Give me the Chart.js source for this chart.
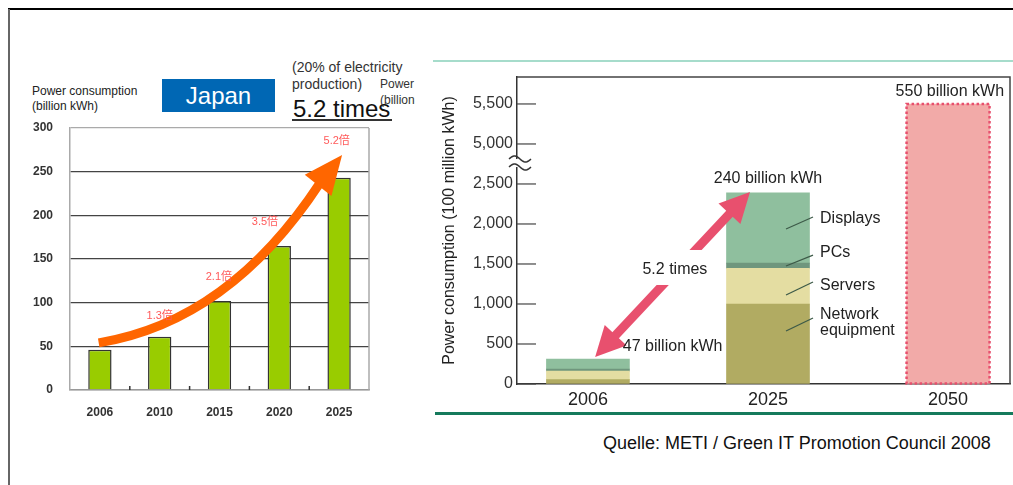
<!DOCTYPE html>
<html>
<head>
<meta charset="utf-8">
<script src="https://cdn.jsdelivr.net/npm/chart.js@4"></script>
<style>
  html, body { margin: 0; padding: 0; background: #fff; }
  body { width: 1013px; height: 485px; position: relative; overflow: hidden;
         font-family: "Liberation Sans", Arial, sans-serif; }
  .t { position: absolute; white-space: nowrap; line-height: 1; }
  .ln { position: absolute; }
  canvas { position: absolute; top: 0; }
</style>
</head>
<body>
<!-- slide frame -->
<div class="ln" style="left:8px;top:8px;width:1005px;height:2px;background:#000"></div>
<div class="ln" style="left:8px;top:9px;width:2px;height:476px;background:#666"></div>
<div class="ln" style="left:433px;top:60px;width:580px;height:1.5px;background:#a6dccb"></div>
<div class="ln" style="left:435px;top:412px;width:578px;height:2.5px;background:#157a5c"></div>

<!-- left chart headings -->
<div class="t" style="left:32px;top:85px;font-size:12px;color:#222">Power consumption</div>
<div class="t" style="left:32px;top:100px;font-size:12px;color:#222">(billion kWh)</div>
<div class="ln" style="left:162px;top:79px;width:113px;height:33px;background:#0067b4;color:#fff;font-size:24px;line-height:33px;text-align:center">Japan</div>
<div class="t" style="left:292px;top:60px;font-size:14px;color:#333">(20% of electricity</div>
<div class="t" style="left:292px;top:77px;font-size:14px;color:#333">production)</div>
<div class="t" style="left:293px;top:97px;font-size:24px;color:#111">5.2 times</div>
<div class="ln" style="left:292px;top:119px;width:100px;height:1.5px;background:#333"></div>
<div class="ln" style="left:380px;top:77px;width:37px;height:30px;overflow:hidden">
  <div class="t" style="left:0;top:1px;font-size:12px;color:#333">Power</div>
  <div class="t" style="left:0;top:17px;font-size:12px;color:#333">(billion</div>
</div>

<canvas id="jp" width="430" height="440" style="left:0;width:430px;height:440px"></canvas>
<canvas id="it" width="583" height="430" style="left:430px;width:583px;height:430px"></canvas>

<div class="t" style="left:603px;top:434px;font-size:18px;color:#111">Quelle: METI / Green IT Promotion Council 2008</div>

<script>
Chart.defaults.font.family = "'Liberation Sans', Arial, 'Noto Sans CJK JP', sans-serif";

// ---- left: Japan IT power consumption (billion kWh)
const yearsJp = ['2006', '2010', '2015', '2020', '2025'];
const consumptionJp = [46, 61, 102, 165, 243];
const ticksJp = [0, 50, 100, 150, 200, 250, 300];
const ratioLabels = ['1.3倍', '2.1倍', '3.5倍', '5.2倍'];

// ---- right: IT equipment power consumption (100 million kWh)
const yearsIt = ['2006', '2025', '2050'];
const networkEq = [55, 1000, null];
const servers = [105, 445, null];
const pcs = [25, 65, null];
const displays = [125, 880, null];
const forecast2050 = [null, null, 5500];
const ticksIt = [0, 500, 1000, 1500, 2000, 2500, 5000, 5500];

// annotation spots, as (category, value) on each chart
const ratioSpots = [[1.0, 85], [1.99, 129], [2.76, 192], [3.96, 285]];
const growthCurve = [[-0.02, 54], [1.5, 71], [2.71, 136], [3.68, 237], [4.05, 269]];

// axis break: everything above 2500 is shifted down by 2000
const brk = v => (v > 2500 ? v - 2000 : v);

function arrowHead(ctx, from, tip, len, w) {
  const dx = tip[0] - from[0], dy = tip[1] - from[1];
  const d = Math.hypot(dx, dy), ux = dx / d, uy = dy / d;
  const bx = tip[0] - ux * len, by = tip[1] - uy * len;
  ctx.beginPath();
  ctx.moveTo(tip[0], tip[1]);
  ctx.lineTo(bx - uy * w / 2, by + ux * w / 2);
  ctx.lineTo(bx + uy * w / 2, by - ux * w / 2);
  ctx.closePath();
  ctx.fill();
}

const jpDecor = {
  id: 'jpDecor',
  afterDatasetsDraw(chart) {
    const { ctx, chartArea: a, scales: { x, y } } = chart;
    const P = p => [x.getPixelForValue(p[0]), y.getPixelForValue(p[1])];
    ctx.save();
    ctx.strokeStyle = '#aaa';
    ctx.lineWidth = 1.5;
    ctx.beginPath();
    ctx.moveTo(a.right, a.top);
    ctx.lineTo(a.right, a.bottom);
    ctx.stroke();

    // little marks between categories
    ctx.strokeStyle = '#333';
    for (let i = 0; i < yearsJp.length - 1; i++) {
      const tx = x.getPixelForValue(i + 0.5);
      ctx.beginPath();
      ctx.moveTo(tx, a.bottom - 4);
      ctx.lineTo(tx, a.bottom);
      ctx.stroke();
    }

    // orange growth arrow
    const [p0, p1, p2, p3, tip] = growthCurve.map(P);
    ctx.strokeStyle = '#ff6600';
    ctx.fillStyle = '#ff6600';
    ctx.lineWidth = 9;
    ctx.beginPath();
    ctx.moveTo(p0[0], p0[1]);
    ctx.bezierCurveTo(p1[0], p1[1], p2[0], p2[1], p3[0], p3[1]);
    ctx.stroke();
    arrowHead(ctx, p3, tip, Math.hypot(tip[0] - p3[0], tip[1] - p3[1]) + 3, 34);

    ctx.fillStyle = '#ff5a5a';
    ctx.font = "11px 'Liberation Sans', Arial, 'Noto Sans CJK JP', sans-serif";
    ctx.textAlign = 'center';
    ctx.textBaseline = 'middle';
    ratioLabels.forEach((t, i) => {
      const [px, py] = P(ratioSpots[i]);
      ctx.fillText(t, px, py);
    });
    ctx.restore();
  }
};

new Chart(document.getElementById('jp'), {
  type: 'bar',
  data: {
    labels: yearsJp,
    datasets: [{
      data: consumptionJp,
      backgroundColor: '#99cc00',
      borderColor: '#333',
      borderWidth: 1.5,
      barPercentage: 0.39,
      categoryPercentage: 1
    }]
  },
  options: {
    responsive: false,
    animation: false,
    events: [],
    layout: { padding: { left: 0, top: 128, right: 61, bottom: 20 } },
    plugins: { legend: { display: false }, tooltip: { enabled: false } },
    scales: {
      x: {
        grid: { display: true, drawOnChartArea: false, drawTicks: false },
        border: { color: '#999', width: 1.5 },
        ticks: { font: { size: 12, weight: 'bold' }, color: '#333', padding: 15 },
        afterFit(s) { s.height = 30; }
      },
      y: {
        min: 0,
        max: 300,
        afterBuildTicks(s) { s.ticks = ticksJp.map(v => ({ value: v })); },
        grid: {
          color: c => (c.tick && (c.tick.value === 0 || c.tick.value === 300)) ? '#aaa' : '#444',
          lineWidth: 1.3,
          drawTicks: false
        },
        border: { color: '#aaa', width: 1.5 },
        ticks: { font: { size: 12, weight: 'bold' }, color: '#333', padding: 17 },
        afterFit(s) { s.width = 70; }
      }
    }
  },
  plugins: [jpDecor]
});

// ---- right chart
const pts = arr => arr.map((v, i) => (v == null ? null : { x: i, y: brk(v) })).filter(Boolean);

// label spots in axis units (display scale, after the break)
const segLabels = [
  { text: ['Displays'], y: 2062, from: 1937, to: 2087 },
  { text: ['PCs'], y: 1637, from: 1475, to: 1612 },
  { text: ['Servers'], y: 1225, from: 1112, to: 1275 },
  { text: ['Network', 'equipment'], y: 862, from: 662, to: 825 }
];

const itDecor = {
  id: 'itDecor',
  afterDatasetsDraw(chart) {
    const { ctx, chartArea: a, scales: { x, y } } = chart;
    const X = v => x.getPixelForValue(v), Y = v => y.getPixelForValue(v);
    ctx.save();

    // frame top + right
    ctx.strokeStyle = '#444';
    ctx.lineWidth = 1.5;
    ctx.beginPath();
    ctx.moveTo(a.left, a.top);
    ctx.lineTo(a.right, a.top);
    ctx.lineTo(a.right, a.bottom);
    ctx.stroke();

    // inward ticks
    ctx.lineWidth = 1.2;
    y.ticks.forEach(t => {
      const ty = Y(t.value);
      ctx.beginPath();
      ctx.moveTo(a.left, ty);
      ctx.lineTo(a.left + 19, ty);
      ctx.stroke();
    });

    // axis break mark
    const yb = Y(2762);
    ctx.fillStyle = '#fff';
    ctx.fillRect(a.left - 3, yb - 4, 6, 8);
    ctx.strokeStyle = '#333';
    ctx.lineWidth = 1.5;
    [-4, 4].forEach(off => {
      ctx.beginPath();
      for (let k = 0; k <= 22; k++) {
        const px = a.left - 8 + k, py = yb + off - 3 * Math.sin(k / 22 * 2 * Math.PI);
        if (k === 0) ctx.moveTo(px, py); else ctx.lineTo(px, py);
      }
      ctx.stroke();
    });

    // dotted outline of the 2050 forecast
    const el = chart.getDatasetMeta(4).data[0];
    if (el) {
      ctx.strokeStyle = '#e8506e';
      ctx.lineWidth = 2.5;
      ctx.setLineDash([2.5, 2.5]);
      ctx.strokeRect(el.x - el.width / 2, el.y, el.width, el.base - el.y);
      ctx.setLineDash([]);
    }

    // pink double arrow
    const A = [X(0.04), Y(337)], B = [X(0.9), Y(2400)];
    ctx.strokeStyle = '#e8506e';
    ctx.fillStyle = '#e8506e';
    ctx.lineWidth = 9;
    ctx.beginPath();
    ctx.moveTo(A[0] + (B[0] - A[0]) * 0.12, A[1] + (B[1] - A[1]) * 0.12);
    ctx.lineTo(B[0] - (B[0] - A[0]) * 0.12, B[1] - (B[1] - A[1]) * 0.12);
    ctx.stroke();
    arrowHead(ctx, B, A, 30, 30);
    arrowHead(ctx, A, B, 30, 30);

    const cx = X(0.483), cy = Y(1425);
    ctx.fillStyle = '#fff';
    ctx.fillRect(cx - 36, cy - 20, 72, 35);

    ctx.fillStyle = '#222';
    ctx.font = "16px 'Liberation Sans', Arial, sans-serif";
    ctx.textBaseline = 'middle';
    ctx.textAlign = 'center';
    ctx.fillText('5.2 times', cx, cy);
    ctx.fillText('550 billion kWh', X(2.01), Y(3650));
    ctx.fillText('240 billion kWh', X(1), Y(2562));
    ctx.textAlign = 'left';
    ctx.fillText('47 billion kWh', X(0.194), Y(462));

    // segment labels with leader lines
    ctx.strokeStyle = '#3d5a48';
    ctx.lineWidth = 1.3;
    segLabels.forEach(s => {
      ctx.beginPath();
      ctx.moveTo(X(1.1), Y(s.from));
      ctx.lineTo(X(1.25), Y(s.to));
      ctx.stroke();
      s.text.forEach((t, k) => ctx.fillText(t, X(1.289), Y(s.y) + k * 16));
    });
    ctx.restore();
  }
};

new Chart(document.getElementById('it'), {
  type: 'bar',
  data: {
    datasets: [
      { label: 'Network equipment', data: pts(networkEq), backgroundColor: '#b1ab62' },
      { label: 'Servers', data: pts(servers), backgroundColor: '#e4dda2' },
      { label: 'PCs', data: pts(pcs), backgroundColor: '#6f967d' },
      { label: 'Displays', data: pts(displays), backgroundColor: '#8fbf9e' },
      { label: '2050', data: pts(forecast2050), backgroundColor: '#f2aaa8' }
    ]
  },
  options: {
    responsive: false,
    animation: false,
    events: [],
    datasets: { bar: { barThickness: 83, borderWidth: 0 } },
    layout: { padding: { left: 0, top: 77, right: 3, bottom: 16 } },
    plugins: { legend: { display: false }, tooltip: { enabled: false } },
    scales: {
      x: {
        type: 'linear',
        offset: false,
        stacked: true,
        min: -0.394,
        max: 2.344,
        afterBuildTicks(s) { s.ticks = yearsIt.map((_, i) => ({ value: i })); },
        grid: { display: true, offset: false, drawOnChartArea: false, drawTicks: false },
        border: { color: '#333', width: 1.5 },
        ticks: { callback: (v, i) => yearsIt[i], font: { size: 18 }, color: '#222', padding: 5 },
        afterFit(s) { s.height = 30; }
      },
      y: {
        stacked: true,
        min: 0,
        max: 3837,
        afterBuildTicks(s) { s.ticks = ticksIt.map(v => ({ value: brk(v) })); },
        grid: { display: true, drawOnChartArea: false, drawTicks: false },
        border: { color: '#333', width: 1.5 },
        ticks: {
          callback: (v, i) => ticksIt[i].toLocaleString('en-US'),
          font: { size: 16 },
          color: '#333',
          padding: 4
        },
        title: {
          display: true,
          text: 'Power consumption (100 million kWh)',
          font: { size: 16 },
          color: '#222',
          padding: { top: 10, bottom: 0 }
        },
        afterFit(s) { s.width = 87; }
      }
    }
  },
  plugins: [itDecor]
});
</script>
</body>
</html>
